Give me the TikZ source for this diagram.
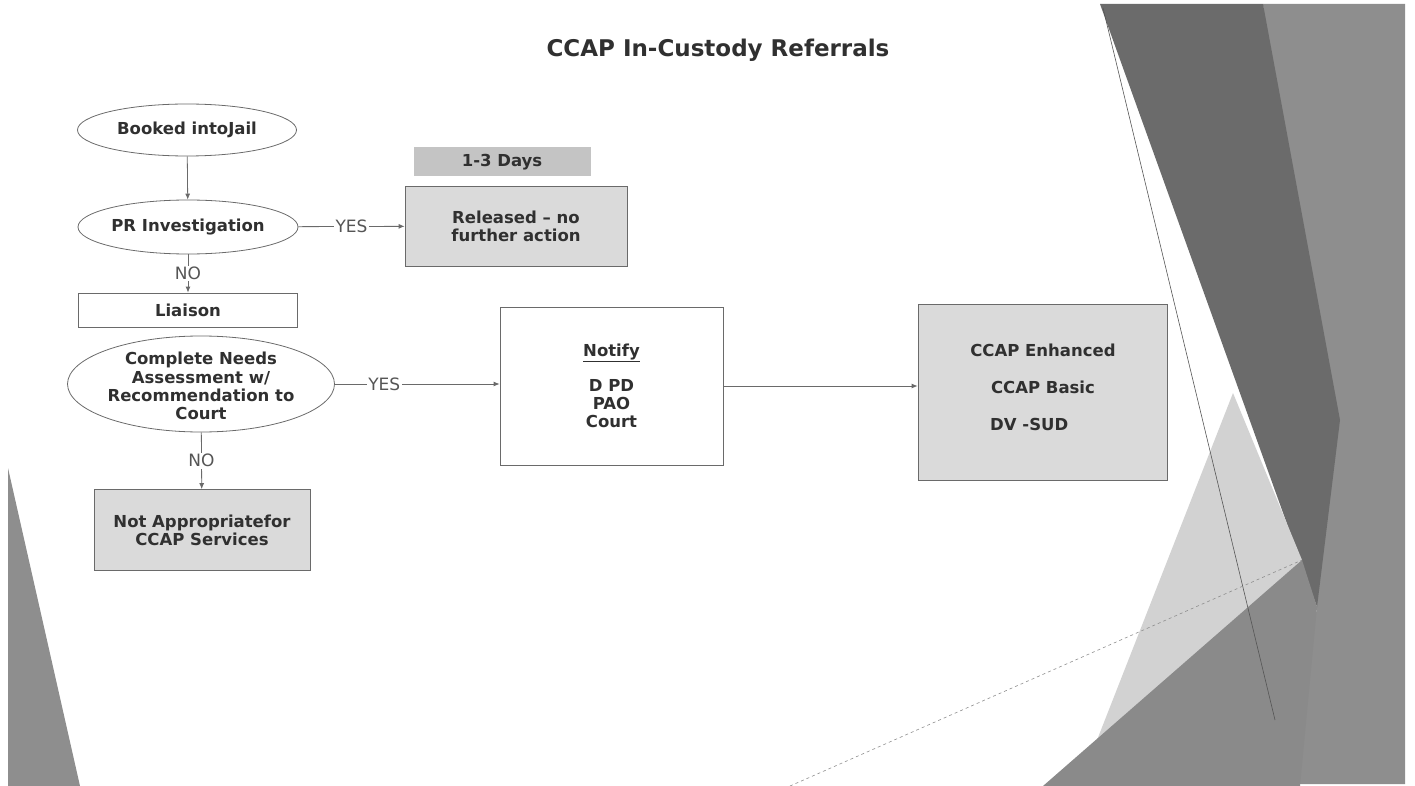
\documentclass[tikz,border=0pt]{standalone}
\usepackage{fontspec}
\setmainfont{DejaVu Sans}
\usetikzlibrary{shapes.geometric,arrows.meta}
\definecolor{txt}{HTML}{303030}
\definecolor{lbltxt}{HTML}{555555}
\definecolor{edge}{HTML}{6a6a6a}
\definecolor{boxfill}{HTML}{DADADA}
\definecolor{dayfill}{HTML}{C4C4C4}
\definecolor{bgdark}{HTML}{6B6B6B}
\definecolor{bgmid}{HTML}{8E8E8E}
\definecolor{bglight}{HTML}{D2D2D2}
\definecolor{bgbot}{HTML}{8A8A8A}
\tikzset{
  base/.style={inner sep=0pt, align=center, text=txt, font=\fontsize{16.5}{18.3}\selectfont\bfseries},
  oval/.style={base, ellipse, draw=edge, line width=0.8pt},
  plainbox/.style={base, rectangle, draw=edge, line width=0.8pt},
  greybox/.style={plainbox, fill=boxfill},
  conn/.style={draw=edge, line width=0.8pt},
  arr/.style={conn, -{Latex[length=6pt,width=5pt]}},
  lbl/.style={fill=white, inner sep=1.5pt, text=lbltxt, font=\fontsize{17}{18}\selectfont},
  plaintext/.style={inner sep=0pt, text=txt, font=\fontsize{16.5}{18}\selectfont\bfseries}
}
\begin{document}
\begin{tikzpicture}[x=1pt,y=-1pt]
\useasboundingbox (0,0) rectangle (1415,786);
% background decoration
\fill[bgmid] (1263,4) -- (1405,4) -- (1405,784) -- (1290,784) -- (1317,607) -- cycle;
\fill[bgdark] (1100,4) -- (1263,4) -- (1340,420) -- (1317,607) -- (1300,560) -- cycle;
\fill[bglight] (1233,393) -- (1302,560) -- (1079,786) -- cycle;
\fill[bgbot] (1043,786) -- (1302,560) -- (1317,607) -- (1300,786) -- cycle;
\draw[edge!80!black, line width=0.6pt] (1103,8) -- (1275,720);
\draw[bgmid, line width=0.6pt, dashed] (790,786) -- (1302,560);
\fill[bgmid] (8,468) -- (8,786) -- (80,786) -- cycle;
% title
\node[plaintext, font=\fontsize{23}{26}\selectfont\bfseries] (title) at (718,50) {CCAP In-Custody Referrals};
% nodes
\node[oval, minimum width=219pt, minimum height=52pt] (booked) at (187,130) {};
\node[base] (bookedtxt) at (booked.center) {Booked intoJail};
\node[oval, minimum width=220pt, minimum height=54pt] (pr) at (188,227) {};
\node[base] (prtxt) at (pr.center) {PR Investigation};
\node[base, fill=dayfill, minimum width=177pt, minimum height=29pt] (days) at (502,162) {1-3 Days};
\node[greybox, minimum width=222pt, minimum height=80pt] (released) at (516,226) {Released -- no\\further action};
\node[plainbox, minimum width=219pt, minimum height=34pt] (liaison) at (188,310) {Liaison};
\node[oval, minimum width=267pt, minimum height=96pt] (need) at (201,384) {};
\node[base] (needtxt) at ([yshift=-2pt]need.center) {Complete Needs\\Assessment w/\\Recommendation to\\Court};
\node[greybox, minimum width=216pt, minimum height=81pt] (notapp) at (202,530) {Not Appropriatefor\\CCAP Services};
\node[plainbox, minimum width=223pt, minimum height=158pt] (notify) at (611.5,386) {\underline{Notify}\\[16pt]D PD\\PAO\\Court};
\node[greybox, minimum width=249pt, minimum height=176pt] (services) at (1042.5,392) {};
\node[plaintext] (enh) at (1043,350) {CCAP Enhanced};
\node[plaintext] (basic) at (1043,387) {CCAP Basic};
\node[plaintext, anchor=west] (dv) at (990,424) {DV -SUD};
% connectors
\draw[arr] (booked) -- (pr);
\draw[arr] (pr) -- node[lbl] {YES} (released);
\draw[arr] (pr) -- node[lbl] {NO} (liaison);
\draw[arr] (need.east) -- node[lbl, pos=0.3] {YES} (need.east -| notify.west);
\draw[arr] (need) -- node[lbl] {NO} (notapp);
\draw[arr] (notify.east) -- (notify.east -| services.west);
\end{tikzpicture}
\end{document}
